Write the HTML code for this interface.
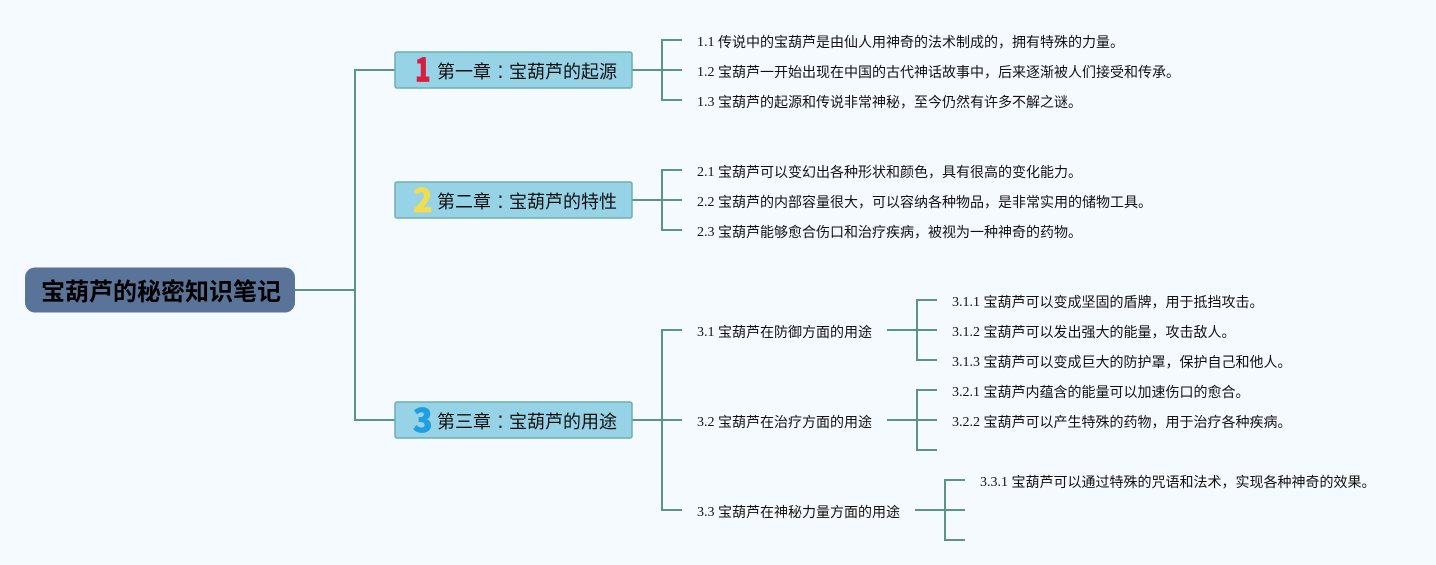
<!DOCTYPE html>
<html lang="zh">
<head>
<meta charset="utf-8">
<style>
html,body{margin:0;padding:0;background:#f5faff;width:1436px;height:565px;overflow:hidden}
svg{display:block}
.l{fill:none;stroke:#5a9586;stroke-width:2}
.t{font-family:"Liberation Serif","Noto Sans CJK SC",serif;font-size:14px;fill:#111}
.h{font-family:"Noto Sans CJK SC","Liberation Sans",sans-serif;font-size:18px;fill:#111}
.c{font-family:"Liberation Sans",sans-serif;font-size:23px;fill:#222;text-anchor:middle}
.n{font-family:"Noto Sans CJK SC","Liberation Sans",sans-serif;font-size:32px;font-weight:900;stroke-width:.7;stroke-linejoin:round}
.r{font-family:"Noto Sans CJK SC","Liberation Sans",sans-serif;font-size:24px;font-weight:bold;fill:#000}
</style>
</head>
<body>
<svg width="1436" height="565" viewBox="0 0 1436 565" xmlns="http://www.w3.org/2000/svg">
<rect width="1436" height="565" fill="#f5faff"/>
<path class="l" d="M295 290H355M395 70H355V420H395M632 70H682M682 40H662V100H682M632 200H682M682 170H662V230H682M632 420H662M682 330H662V510H682M662 420H682M887 330H937M937 300H917V360H937M887 420H937M937 390H917V450H937M915 510H965M965 480H945V540H965"/>
<rect x="25" y="267.500" width="270" height="45" rx="10" fill="#5a7399"/>
<text class="r" x="41" y="300">宝葫芦的秘密知识笔记</text>
<g fill="#96d3e6" stroke="#6fb0aa" stroke-width="1.500">
<rect x="395" y="52" width="237" height="36" rx="2"/>
<rect x="395" y="182" width="237" height="36" rx="2"/>
<rect x="395" y="402" width="237" height="36" rx="2"/>
</g>
<text class="n" transform="translate(415 81.500) scale(.8 1)" fill="#d81e3f" stroke="#d81e3f">1</text>
<text class="n" x="413" y="212" fill="#f2dc4f" stroke="#f2dc4f">2</text>
<text class="n" x="413" y="432" fill="#1f9fe0" stroke="#1f9fe0">3</text>
<text class="h" x="437" y="78">第一章</text><text class="c" x="500.500" y="78">:</text><text class="h" x="509" y="78">宝葫芦的起源</text>
<text class="h" x="437" y="208">第二章</text><text class="c" x="500.500" y="208">:</text><text class="h" x="509" y="208">宝葫芦的特性</text>
<text class="h" x="437" y="428">第三章</text><text class="c" x="500.500" y="428">:</text><text class="h" x="509" y="428">宝葫芦的用途</text>
<text class="t" x="697" y="46">1.1 <tspan dy="1">传说中的宝葫芦是由仙人用神奇的法术制成的，拥有特殊的力量。</tspan></text>
<text class="t" x="697" y="76">1.2 <tspan dy="1">宝葫芦一开始出现在中国的古代神话故事中，后来逐渐被人们接受和传承。</tspan></text>
<text class="t" x="697" y="106">1.3 <tspan dy="1">宝葫芦的起源和传说非常神秘，至今仍然有许多不解之谜。</tspan></text>
<text class="t" x="697" y="176">2.1 <tspan dy="1">宝葫芦可以变幻出各种形状和颜色，具有很高的变化能力。</tspan></text>
<text class="t" x="697" y="206">2.2 <tspan dy="1">宝葫芦的内部容量很大，可以容纳各种物品，是非常实用的储物工具。</tspan></text>
<text class="t" x="697" y="236">2.3 <tspan dy="1">宝葫芦能够愈合伤口和治疗疾病，被视为一种神奇的药物。</tspan></text>
<text class="t" x="697" y="336">3.1 <tspan dy="1">宝葫芦在防御方面的用途</tspan></text>
<text class="t" x="697" y="426">3.2 <tspan dy="1">宝葫芦在治疗方面的用途</tspan></text>
<text class="t" x="697" y="516">3.3 <tspan dy="1">宝葫芦在神秘力量方面的用途</tspan></text>
<text class="t" x="952" y="306">3.1.1 <tspan dy="1">宝葫芦可以变成坚固的盾牌，用于抵挡攻击。</tspan></text>
<text class="t" x="952" y="336">3.1.2 <tspan dy="1">宝葫芦可以发出强大的能量，攻击敌人。</tspan></text>
<text class="t" x="952" y="366">3.1.3 <tspan dy="1">宝葫芦可以变成巨大的防护罩，保护自己和他人。</tspan></text>
<text class="t" x="952" y="396">3.2.1 <tspan dy="1">宝葫芦内蕴含的能量可以加速伤口的愈合。</tspan></text>
<text class="t" x="952" y="426">3.2.2 <tspan dy="1">宝葫芦可以产生特殊的药物，用于治疗各种疾病。</tspan></text>
<text class="t" x="980" y="486">3.3.1 <tspan dy="1">宝葫芦可以通过特殊的咒语和法术，实现各种神奇的效果。</tspan></text>
</svg>
</body>
</html>
